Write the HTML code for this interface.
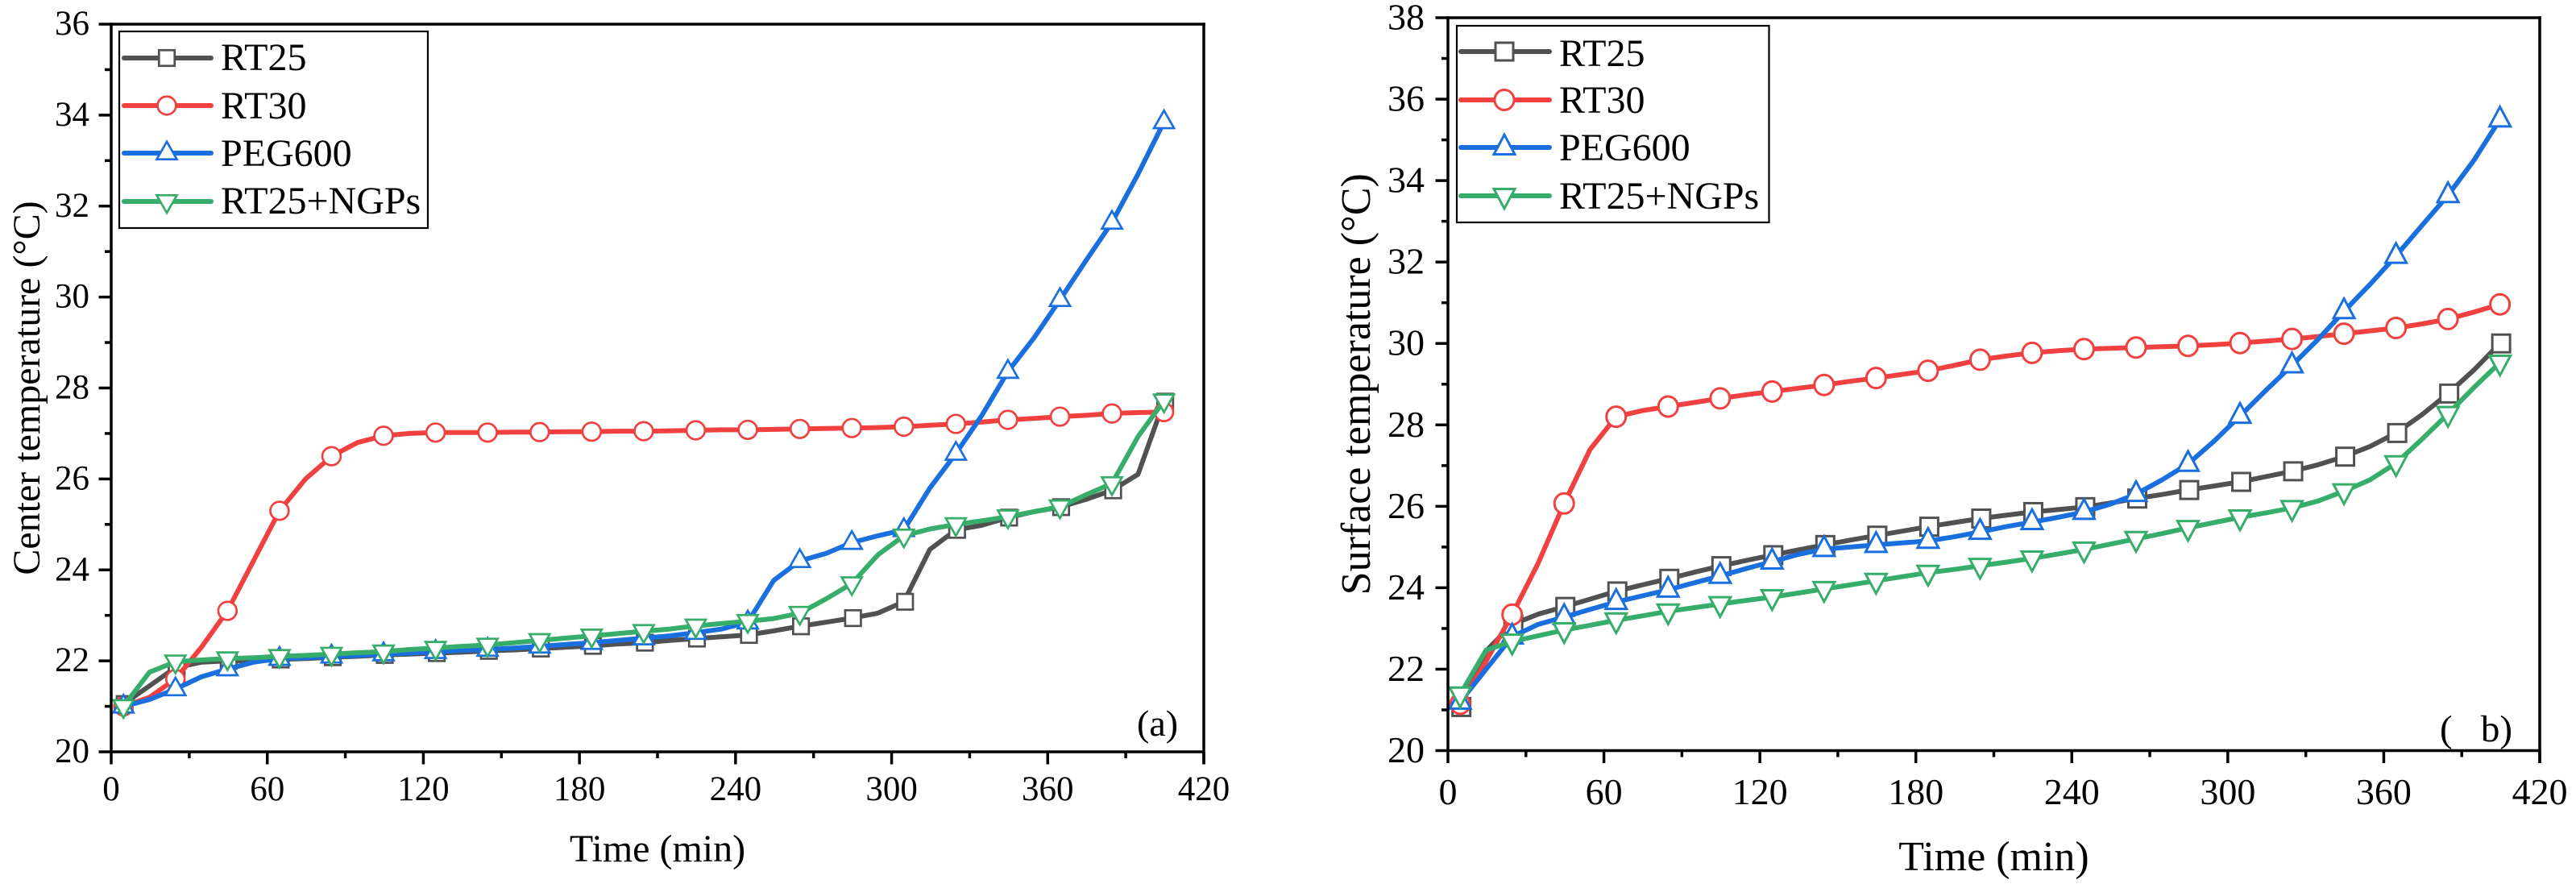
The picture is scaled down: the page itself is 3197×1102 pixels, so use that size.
<!DOCTYPE html>
<html lang="en">
<head>
<meta charset="utf-8">
<title>Center and surface temperature curves</title>
<style>
html,body{margin:0;padding:0;background:#fff;}
svg{display:block;position:absolute;left:0;top:0;}
text{font-family:"Liberation Serif",serif;fill:#000;white-space:pre;}
</style>
</head>
<body>
<svg id="figure" xmlns="http://www.w3.org/2000/svg" width="3197" height="1102" viewBox="0 0 3197 1102"></svg>
<script>
// Shared sampling times (min); every second sample carries a marker.
const times = [4.7,14.7,24.7,34.7,44.7,54.7,64.7,74.7,84.7,94.7,104.7,114.7,124.7,134.7,144.7,154.7,164.7,174.7,184.7,194.7,204.7,214.7,224.7,234.7,244.7,254.7,264.7,274.7,284.7,294.7,304.7,314.7,324.7,334.7,344.7,354.7,364.7,374.7,384.7,394.7,404.7];
const xTickLabels = [0,60,120,180,240,300,360,420];
const centerYTickLabels = [20,22,24,26,28,30,32,34,36];
const surfaceYTickLabels = [20,22,24,26,28,30,32,34,36,38];
const seriesNames = ["RT25","RT30","PEG600","RT25+NGPs"];

// Panel (a): center temperature (deg C)
const centerRt25 = [21.05,21.45,21.85,21.97,22.0,22.0,22.03,22.05,22.08,22.1,22.13,22.15,22.17,22.19,22.22,22.24,22.27,22.3,22.33,22.37,22.4,22.45,22.49,22.53,22.57,22.66,22.76,22.85,22.94,23.05,23.3,24.45,24.88,24.98,25.15,25.28,25.38,25.55,25.75,26.1,27.7];
const centerRt30 = [21.0,21.2,21.6,22.3,23.1,24.2,25.3,26.0,26.5,26.8,26.95,27.0,27.02,27.02,27.02,27.03,27.03,27.04,27.04,27.05,27.05,27.06,27.07,27.08,27.08,27.09,27.1,27.11,27.12,27.13,27.15,27.18,27.21,27.25,27.3,27.33,27.37,27.4,27.44,27.46,27.47];
const centerPeg600 = [21.0,21.15,21.38,21.65,21.82,21.97,22.05,22.07,22.1,22.12,22.15,22.17,22.2,22.23,22.25,22.28,22.32,22.36,22.4,22.45,22.5,22.55,22.62,22.7,22.85,23.77,24.2,24.36,24.6,24.75,24.88,25.8,26.56,27.4,28.36,29.1,29.94,30.8,31.64,32.7,33.85];
const centerNgp = [21.0,21.75,21.98,22.02,22.05,22.07,22.1,22.12,22.15,22.18,22.2,22.25,22.28,22.32,22.35,22.4,22.45,22.5,22.55,22.6,22.65,22.7,22.77,22.82,22.87,22.93,23.05,23.36,23.7,24.33,24.75,24.9,25.0,25.08,25.17,25.28,25.39,25.65,25.9,26.93,27.72];

// Panel (b): surface temperature (deg C)
const surfaceRt25 = [21.07,22.45,23.1,23.35,23.53,23.72,23.91,24.07,24.22,24.38,24.53,24.67,24.8,24.93,25.05,25.17,25.28,25.39,25.5,25.6,25.7,25.78,25.86,25.92,25.98,26.08,26.19,26.29,26.4,26.5,26.6,26.73,26.86,27.02,27.22,27.47,27.8,28.25,28.77,29.35,30.0];
const surfaceRt30 = [21.15,22.2,23.34,24.6,26.07,27.4,28.2,28.35,28.45,28.55,28.65,28.74,28.82,28.9,28.98,29.07,29.15,29.24,29.33,29.46,29.6,29.69,29.77,29.82,29.86,29.88,29.9,29.92,29.94,29.97,30.01,30.06,30.11,30.17,30.24,30.31,30.38,30.48,30.6,30.77,30.96];
const surfacePeg600 = [21.2,22.0,22.8,23.1,23.28,23.47,23.65,23.8,23.95,24.12,24.29,24.47,24.64,24.82,24.95,25.0,25.05,25.1,25.15,25.25,25.37,25.5,25.61,25.73,25.86,26.05,26.3,26.65,27.04,27.6,28.22,28.85,29.46,30.1,30.79,31.45,32.15,32.9,33.64,34.5,35.5];
const surfaceNgp = [21.38,22.47,22.68,22.82,22.96,23.08,23.2,23.31,23.42,23.51,23.6,23.69,23.77,23.87,23.97,24.07,24.17,24.27,24.37,24.45,24.54,24.63,24.72,24.83,24.94,25.07,25.2,25.33,25.47,25.6,25.73,25.84,25.96,26.13,26.37,26.65,27.06,27.65,28.27,28.92,29.53];

const colors = ["#515151","#F14040","#1A6FDF","#37AD6B"];
const shapes = ["square","circle","up","down"];
const svg = document.getElementById("figure");

function make(tag, attrs, parent, text) {
  const node = document.createElementNS("http://www.w3.org/2000/svg", tag);
  for (const k in attrs) node.setAttribute(k, attrs[k]);
  if (text !== undefined) node.textContent = text;
  parent.appendChild(node);
  return node;
}

function drawMarker(parent, shape, cx, cy, m, color, name) {
  let el;
  const common = {fill:"#fff", stroke:color, "stroke-width":m.stroke, "stroke-linejoin":"miter"};
  if (shape === "square") {
    el = make("rect", Object.assign({x:cx - m.square/2 + m.squareDx, y:cy - m.square/2, width:m.square, height:m.square}, common), parent);
  } else if (shape === "circle") {
    el = make("ellipse", Object.assign({cx:cx, cy:cy, rx:m.circleX/2, ry:m.circleY/2}, common), parent);
  } else {
    const w = m.triW/2, s = shape === "up" ? 1 : -1;
    const pts = [[cx, cy - s*m.triApex],[cx + w, cy + s*m.triBase],[cx - w, cy + s*m.triBase]];
    el = make("polygon", Object.assign({points:pts.map(p => p.join(",")).join(" ")}, common), parent);
  }
  
  
  return el;
}

function drawPanel(p) {
  const g = make("g", {}, svg);
  
  
  const xs = t => p.left + (t - 0) * (p.right - p.left) / 420;
  const ys = v => p.bottom - (v - 20) * (p.bottom - p.top) / (p.yMax - 20);

  // series
  p.series.forEach((vals, i) => {
    const sg = make("g", {}, g);
    
    
    const d = vals.map((v, k) => (k ? "L" : "M") + xs(times[k]).toFixed(1) + " " + ys(v).toFixed(1)).join(" ");
    const line = make("path", {d:d, fill:"none", stroke:colors[i], "stroke-width":p.lineWidth, "stroke-linejoin":"round", "stroke-linecap":"round"}, sg);
    
    
    vals.forEach((v, k) => {
      if (k % 2 === 0) drawMarker(sg, shapes[i], xs(times[k]), ys(v), p.marker, colors[i], 'data-marker');
    });
  });

  // axes frame
  const axisStyle = {stroke:"#000", "stroke-width":p.axisWidth, "stroke-linecap":"butt"};
  const leftSpine = make("line", Object.assign({x1:p.left, y1:p.top - p.axisWidth/2, x2:p.left, y2:p.bottom + p.majorTick}, axisStyle), g);
  
  
  const rightSpine = make("line", Object.assign({x1:p.right, y1:p.top - p.axisWidth/2, x2:p.right, y2:p.bottom + p.majorTick}, axisStyle), g);
  
  
  const bottomSpine = make("line", Object.assign({x1:p.left - p.majorTick, y1:p.bottom, x2:p.right, y2:p.bottom}, axisStyle), g);
  
  
  const topSpine = make("line", Object.assign({x1:p.left - p.majorTick, y1:p.top, x2:p.right + p.axisWidth/2, y2:p.top}, axisStyle), g);
  
  

  // x ticks
  xTickLabels.forEach((t, i) => {
    const x = xs(t);
    if (i > 0 && i < xTickLabels.length) {
      const tick = make("line", Object.assign({x1:x, y1:p.bottom, x2:x, y2:p.bottom + p.majorTick}, axisStyle), g);
      
      
    }
    if (i > 0) {
      const mx = xs((t + xTickLabels[i - 1]) / 2);
      const minor = make("line", Object.assign({x1:mx, y1:p.bottom, x2:mx, y2:p.bottom + p.minorTick}, axisStyle), g);
      
      
    }
    const lab = make("text", {x:x, y:p.xLabelY, "text-anchor":"middle", "font-size":p.tickFont}, g, String(t));
    
    
  });

  // y ticks
  p.yTicks.forEach((v, i) => {
    const y = ys(v);
    if (i > 0 && i < p.yTicks.length - 1) {
      const tick = make("line", Object.assign({x1:p.left - p.majorTick, y1:y, x2:p.left, y2:y}, axisStyle), g);
      
      
    }
    if (i > 0) {
      const my = ys((v + p.yTicks[i - 1]) / 2);
      const minor = make("line", Object.assign({x1:p.left - p.minorTick, y1:my, x2:p.left, y2:my}, axisStyle), g);
      
      
    }
    const lab = make("text", {x:p.yLabelX, y:y + p.yLabelDy, "text-anchor":"end", "font-size":p.tickFont}, g, String(v));
    
    
  });

  // axis titles
  const xTitle = make("text", {x:(p.left + p.right)/2, y:p.xTitleY, "text-anchor":"middle", "font-size":p.titleFont}, g, "Time (min)");
  
  
  const cy = (p.top + p.bottom)/2;
  const yTitle = make("text", {x:0, y:0, "text-anchor":"middle", "font-size":p.titleFont, transform:"translate(" + p.yTitleX + " " + cy + ") rotate(-90)"}, g, p.yTitle);
  
  

  // panel tag
  const tag = make("text", {x:p.tagX, y:p.tagY, "font-size":p.tagFont}, g, p.tag);
  
  

  // legend
  const L = p.legend;
  const lg = make("g", {}, g);
  
  
  const box = make("rect", {x:L.x, y:L.y, width:L.w, height:L.h, fill:"#fff", stroke:"#000", "stroke-width":2.2}, lg);
  
  
  seriesNames.forEach((n, i) => {
    const eg = make("g", {}, lg);
    
    
    const ln = make("line", {x1:L.lineX1, y1:L.rowY[i], x2:L.lineX2, y2:L.rowY[i], stroke:colors[i], "stroke-width":L.lineWidth, "stroke-linecap":"round"}, eg);
    
    
    drawMarker(eg, shapes[i], L.markerX, L.rowY[i], Object.assign({}, p.marker, {squareDx:0}), colors[i], 'legend-marker');
    const tx = make("text", {x:L.textX, y:L.textY[i], "font-size":L.font}, eg, n);
    
    
  });
}

drawPanel({
  id:"center", left:138, right:1494, top:30, bottom:933, yMax:36,
  yTicks:centerYTickLabels, series:[centerRt25,centerRt30,centerPeg600,centerNgp],
  lineWidth:6, axisWidth:3.5, majorTick:15.5, minorTick:8,
  marker:{square:19.5,squareDx:1.5,circleX:22.8,circleY:22.5,triW:25,triApex:14.2,triBase:7.7,stroke:2.7},
  tickFont:43, yLabelX:111, yLabelDy:13, xLabelY:993,
  titleFont:48, xTitleY:1069, yTitle:"Center temperature (°C)", yTitleX:49,
  tag:"(a)", tagX:1411, tagY:913, tagFont:46,
  legend:{x:148,y:39,w:383,h:244,lineX1:154,lineX2:262,lineWidth:6,markerX:207,textX:274,font:48,
    rowY:[72,131,190,250], textY:[87,147,206,265]}
});

drawPanel({
  id:"surface", left:1797, right:3152, top:22, bottom:931.5, yMax:38,
  yTicks:surfaceYTickLabels, series:[surfaceRt25,surfaceRt30,surfacePeg600,surfaceNgp],
  lineWidth:6, axisWidth:3.5, majorTick:15.5, minorTick:8,
  marker:{square:22,squareDx:1.5,circleX:24,circleY:25,triW:26,triApex:15.8,triBase:8.5,stroke:3},
  tickFont:46, yLabelX:1768, yLabelDy:14.5, xLabelY:998,
  titleFont:52, xTitleY:1080, yTitle:"Surface temperature (°C)", yTitleX:1700,
  tag:"(   b)", tagX:3028, tagY:920, tagFont:47,
  legend:{x:1808,y:32,w:387.5,h:244,lineX1:1813,lineX2:1923,lineWidth:6,markerX:1867,textX:1935,font:48,
    rowY:[64,124,183,243], textY:[82,140,199,259]}
});
</script>
</body>
</html>
